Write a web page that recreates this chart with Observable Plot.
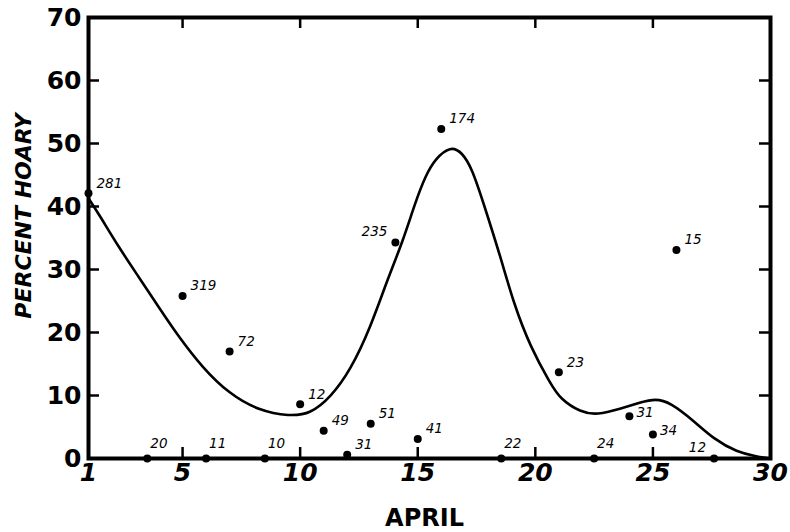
<!DOCTYPE html>
<html>
<head>
<meta charset="utf-8">
<script src="https://cdn.jsdelivr.net/npm/d3@7"></script>
<script src="https://cdn.jsdelivr.net/npm/@observablehq/plot@0.6"></script>
<style>
  html, body { margin: 0; padding: 0; background: #fff; }
  #chart svg { display: block; }
</style>
</head>
<body>
<div id="chart"></div>
<script>
// Observed samples: day of April, percent hoary, sample size (label)
const obsDay     = [1, 3.5, 5, 6, 7, 8.5, 10, 11, 12, 13, 14.05, 15, 16, 18.55, 21, 22.5, 24, 25, 26, 27.6];
const obsPercent = [42.1, 0, 25.8, 0, 17.0, 0, 8.6, 4.4, 0.6, 5.5, 34.3, 3.1, 52.3, 0, 13.7, 0, 6.7, 3.8, 33.1, 0];
const obsCount   = [281, 20, 319, 11, 72, 10, 12, 49, 31, 51, 235, 41, 174, 22, 23, 24, 31, 34, 15, 12];

// Fitted smooth curve
const curveDay     = [1.0, 1.44, 2.29, 3.14, 3.99, 4.84, 5.83, 6.97, 8.24, 9.55, 10.44, 11.29, 12.14, 12.99, 13.70, 14.35, 14.90, 15.33, 15.75, 16.39, 16.89, 17.31, 17.8, 18.52, 19.08, 19.79, 20.64, 21.07, 21.92, 22.63, 23.62, 24.47, 25.1, 25.74, 26.73, 27.58, 28.58, 29.43, 30.0];
const curvePercent = [41.3, 38.8, 33.5, 28.8, 24.0, 19.3, 14.5, 10.3, 7.6, 6.7, 7.1, 9.7, 14.0, 20.8, 28.3, 34.3, 40.7, 44.9, 47.6, 49.6, 48.6, 46.0, 40.5, 32.0, 24.6, 17.7, 11.9, 9.4, 7.35, 6.9, 7.9, 8.9, 9.5, 8.9, 6.0, 3.1, 1.0, 0.3, 0.0];

// Axis ticks
const xTickLabels = [1, 5, 10, 15, 20, 25, 30];
const xInnerTicks = [5, 10, 15, 20, 25];
const yTickLabels = [0, 10, 20, 30, 40, 50, 60, 70];
const yInnerTicks = [10, 20, 30, 40, 50, 60];

const xTitle = "APRIL";
const yTitle = "PERCENT HOARY";

const obs = obsDay.map((d, i) => ({day: d, pct: obsPercent[i], n: obsCount[i]}));
const curve = curveDay.map((d, i) => ({day: d, pct: curvePercent[i]}));

const W = 790, H = 532;
const mL = 88, mR = 20, mT = 17, mB = 74;
const frameH = H - mT - mB;
const frameW = W - mL - mR;
const tickLen = 11;
const FONT = "DejaVu Sans";
const LABEL = {fontSize: 13.5, fontStyle: "italic", fontFamily: FONT, letterSpacing: 2.2, fill: "#000"};

const isLeft = (d) => d.n === 235 || d.day > 27;
const besideCurve = (d) => d.day === 24 || d.day === 25;

const plot = Plot.plot({
  width: W,
  height: H,
  marginLeft: mL,
  marginRight: mR,
  marginTop: mT,
  marginBottom: mB,
  style: {fontFamily: FONT, background: "#fff", color: "#000"},
  x: {domain: [1, 30]},
  y: {domain: [0, 70]},
  marks: [
    // inward ticks on all four sides
    Plot.ruleX(xInnerTicks, {x: d => d, insetTop: frameH - tickLen, stroke: "#000", strokeWidth: 2.5}),
    Plot.ruleX(xInnerTicks, {x: d => d, insetBottom: frameH - tickLen, stroke: "#000", strokeWidth: 2.5}),
    Plot.ruleY(yInnerTicks, {y: d => d, insetRight: frameW - tickLen, stroke: "#000", strokeWidth: 2.5}),
    Plot.ruleY(yInnerTicks, {y: d => d, insetLeft: frameW - tickLen, stroke: "#000", strokeWidth: 2.5}),
    Plot.axisX(xTickLabels, {tickSize: 0, tickPadding: 5, fontSize: 25, fontWeight: "bold", fontStyle: "italic", fontFamily: FONT, label: null}),
    Plot.axisY(yTickLabels, {tickSize: 0, tickPadding: 7, fontSize: 25, fontWeight: "bold", fontFamily: FONT, label: null}),
    // fitted curve
    Plot.line(curve, {x: "day", y: "pct", curve: "basis", stroke: "#000", strokeWidth: 2.6}),
    // points
    Plot.dot(obs, {x: "day", y: "pct", r: 4, fill: "#000", stroke: "none"}),
    // labels: right side, elevated points
    Plot.text(obs, {filter: d => !isLeft(d) && !besideCurve(d) && d.pct > 0, x: "day", y: "pct", text: d => String(d.n),
      textAnchor: "start", dx: 8, dy: -10, ...LABEL}),
    // labels: right side, nearly level with the point
    Plot.text(obs, {filter: d => besideCurve(d), x: "day", y: "pct", text: d => String(d.n),
      textAnchor: "start", dx: 7, dy: -4, ...LABEL}),
    // labels: right side, points on the baseline
    Plot.text(obs, {filter: d => !isLeft(d) && d.pct === 0, x: "day", y: "pct", text: d => String(d.n),
      textAnchor: "start", dx: 3, dy: -15, ...LABEL}),
    // labels: left side
    Plot.text(obs, {filter: d => isLeft(d), x: "day", y: "pct", text: d => String(d.n),
      textAnchor: "end", dx: -8, dy: -11, ...LABEL}),
    // frame
    Plot.frame({stroke: "#000", strokeWidth: 4}),
    // axis titles
    Plot.text([xTitle], {frameAnchor: "bottom", textAnchor: "middle", dx: -5, dy: 67, lineAnchor: "bottom", fontSize: 24, fontWeight: "bold", fontFamily: FONT, letterSpacing: 1.5, fill: "#000"}),
    Plot.text([yTitle], {frameAnchor: "left", textAnchor: "middle", lineAnchor: "middle", rotate: -90, dx: -65, dy: -22, fontSize: 22, fontWeight: "bold", fontStyle: "italic", fontFamily: FONT, fill: "#000"})
  ]
});

document.getElementById("chart").appendChild(plot);
</script>
</body>
</html>
